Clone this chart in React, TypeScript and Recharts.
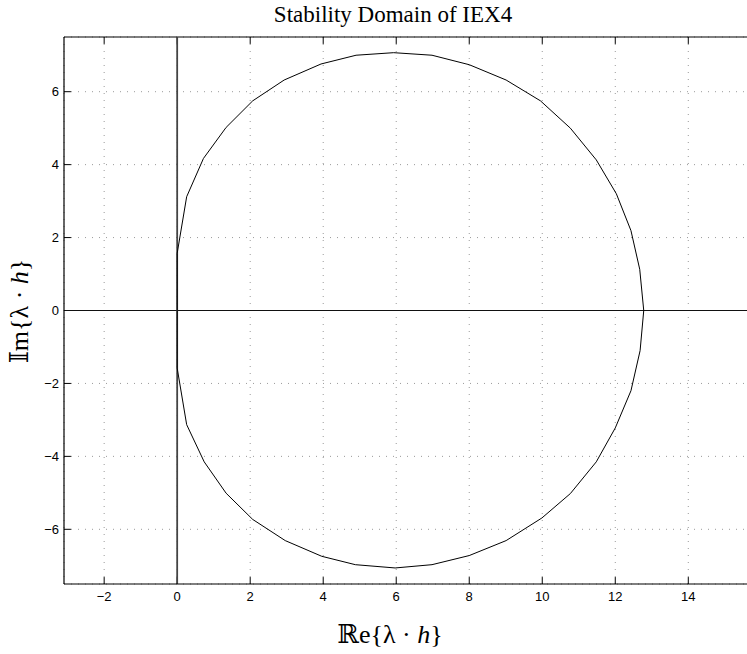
import React from "react";
import {
  CartesianGrid,
  ReferenceLine,
  Scatter,
  ScatterChart,
  XAxis,
  YAxis,
} from "recharts";

// boundary of the stability region, traced from the top (counter-clockwise)
const reTop = [12.78, 12.67, 12.43, 12.03, 11.48, 10.77, 9.95, 9.01, 8.0, 6.98, 5.93, 4.9, 3.94, 2.93, 2.07, 1.34, 0.72, 0.26, 0.0];
const imTop = [0.0, 1.13, 2.19, 3.2, 4.13, 5.0, 5.75, 6.32, 6.74, 7.0, 7.07, 7.0, 6.76, 6.32, 5.75, 5.02, 4.17, 3.12, 1.57];
const reBottom = [0.0, 0.26, 0.74, 1.34, 2.07, 2.96, 3.96, 4.88, 5.97, 6.98, 8.0, 9.01, 9.99, 10.77, 11.48, 12.0, 12.43, 12.68, 12.78];
const imBottom = [-1.58, -3.13, -4.15, -5.01, -5.73, -6.31, -6.74, -6.97, -7.06, -6.97, -6.72, -6.31, -5.69, -5.02, -4.15, -3.22, -2.2, -1.1, 0.0];

const xTicks = [-2, 0, 2, 4, 6, 8, 10, 12, 14];
const yTicks = [-6, -4, -2, 0, 2, 4, 6];
// the axes run past the right edge of the picture
const xDomain: [number, number] = [-3.1, 17.06];
const yDomain: [number, number] = [-7.5, 7.5];

const boundary = [
  ...reTop.map((x, i) => ({ x, y: imTop[i] })),
  ...reBottom.map((x, i) => ({ x, y: imBottom[i] })),
];

const TICK_LEN = 0.19;
const minus = (v: number) => String(v).replace("-", "\u2212");
const serif = "'Liberation Serif', 'DejaVu Serif', serif";
const sans = "'Liberation Sans', Arial, Helvetica, sans-serif";

export default function App() {
  return (
    <div style={{ position: "fixed", left: 0, top: 0, width: "100vw", height: "100vh", background: "#fff", overflow: "hidden" }}>
      <ScatterChart width={800} height={654} margin={{ top: 37, right: 0, bottom: 0, left: 0 }}>
        <CartesianGrid stroke="#9a9a9a" strokeDasharray="1 6" />
        <XAxis
          type="number"
          dataKey="x"
          domain={xDomain}
          ticks={xTicks}
          allowDataOverflow
          height={70}
          tickLine={false}
          tickSize={6}
          tickMargin={2}
          axisLine={{ stroke: "#000", strokeWidth: 1.2 }}
          tickFormatter={minus}
          tick={{ fill: "#000", fontSize: 13, fontFamily: sans }}
        />
        <YAxis
          type="number"
          dataKey="y"
          domain={yDomain}
          ticks={yTicks}
          allowDataOverflow
          width={64}
          tickLine={false}
          tickSize={3}
          tickMargin={2}
          axisLine={{ stroke: "#000", strokeWidth: 1.2 }}
          tickFormatter={minus}
          tick={{ fill: "#000", fontSize: 13, fontFamily: sans }}
        />
        <ReferenceLine y={yDomain[1]} stroke="#000" strokeWidth={1.2} />
        {xTicks.map((t) => (
          <ReferenceLine
            key={"b" + t}
            segment={[{ x: t, y: yDomain[0] }, { x: t, y: yDomain[0] + TICK_LEN }]}
            stroke="#000"
          />
        ))}
        {xTicks.map((t) => (
          <ReferenceLine
            key={"t" + t}
            segment={[{ x: t, y: yDomain[1] }, { x: t, y: yDomain[1] - TICK_LEN }]}
            stroke="#000"
          />
        ))}
        {yTicks.map((t) => (
          <ReferenceLine
            key={"l" + t}
            segment={[{ x: xDomain[0], y: t }, { x: xDomain[0] + TICK_LEN, y: t }]}
            stroke="#000"
          />
        ))}
        <ReferenceLine y={0} stroke="#111" strokeWidth={1.2} />
        <ReferenceLine x={0} stroke="#444" strokeWidth={1.8} />
        <Scatter
          data={boundary}
          line={{ stroke: "#000", strokeWidth: 1 }}
          shape={() => null}
          isAnimationActive={false}
        />
      </ScatterChart>
      <div style={{ position: "absolute", left: 393, top: 15, transform: "translate(-50%, -50%)", fontFamily: serif, fontSize: 23, whiteSpace: "nowrap" }}>
        Stability Domain of IEX4
      </div>
      <div style={{ position: "absolute", left: 390, top: 634, transform: "translate(-50%, -50%)", fontFamily: serif, fontSize: 26, whiteSpace: "nowrap" }}>
        ℝe{"{"}λ · <i>h</i>{"}"}
      </div>
      <div style={{ position: "absolute", left: 19, top: 311, transform: "translate(-50%, -50%) rotate(-90deg)", fontFamily: serif, fontSize: 26, whiteSpace: "nowrap" }}>
        𝕀m{"{"}λ · <i>h</i>{"}"}
      </div>
    </div>
  );
}
